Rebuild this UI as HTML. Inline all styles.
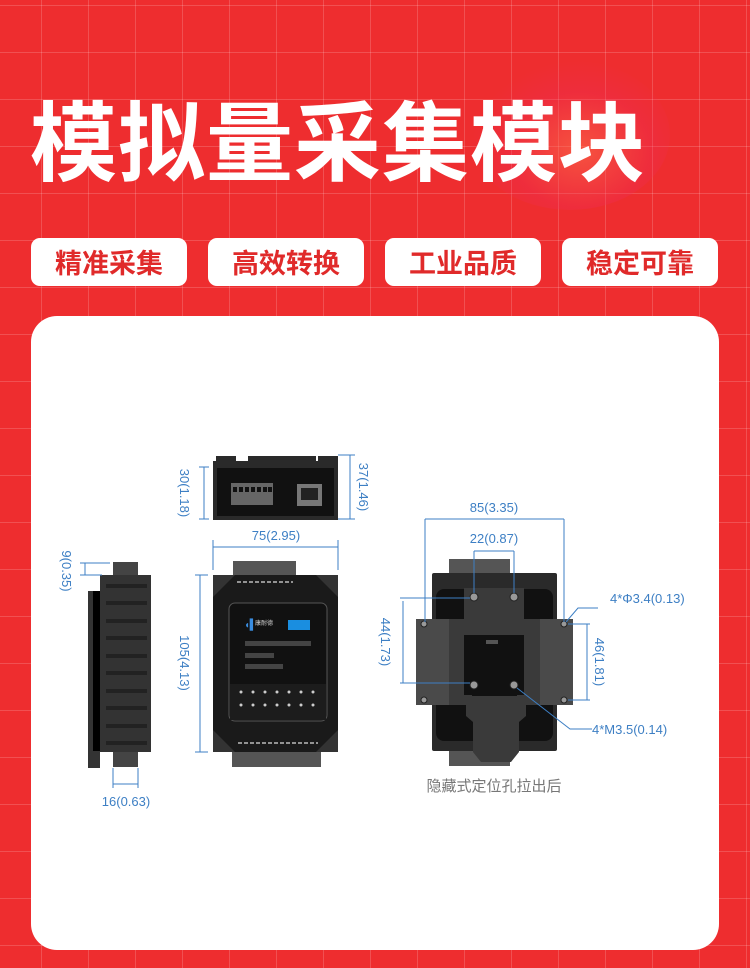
<!DOCTYPE html>
<html><head><meta charset="utf-8"><style>
html,body{margin:0;padding:0}
body{width:750px;height:968px;position:relative;overflow:hidden;background:#ee2d2f;font-family:"Liberation Sans","Noto Sans CJK SC",sans-serif}
.grid{position:absolute;left:0;top:0;width:750px;height:968px;background-image:linear-gradient(to right,rgba(255,255,255,.17) 1px,transparent 1px),linear-gradient(to bottom,rgba(255,255,255,.17) 1px,transparent 1px);background-size:47px 47px;background-position:-6px 5px}
.glow{position:absolute;left:470px;top:60px;width:200px;height:150px;border-radius:50%;background:radial-gradient(ellipse at 55% 60%,rgba(255,120,80,.5),rgba(240,45,90,.3) 45%,transparent 70%)}
.title{position:absolute;left:30px;top:82px;font-size:87px;font-weight:bold;color:#fff;letter-spacing:1px;white-space:nowrap;line-height:110px;font-family:"Noto Sans CJK SC",sans-serif}
.btn{position:absolute;top:238px;width:156px;height:48px;background:#fff;border-radius:9px;color:#e02a2a;font-size:27px;font-weight:bold;text-align:center;line-height:48px;font-family:"Noto Sans CJK SC",sans-serif}
.card{position:absolute;left:31px;top:316px;width:688px;height:634px;background:#fff;border-radius:26px}
svg{position:absolute;left:0;top:0}
</style></head><body>
<div class="grid"></div><div class="glow"></div>
<div class="title">模拟量采集模块</div>
<div class="btn" style="left:31px">精准采集</div>
<div class="btn" style="left:208px">高效转换</div>
<div class="btn" style="left:385px">工业品质</div>
<div class="btn" style="left:562px">稳定可靠</div>
<div class="card"></div>
<svg width="750" height="968" viewBox="0 0 750 968" font-family="Liberation Sans,sans-serif">
<g fill="#3d7fc4" font-size="13">
<rect x="216" y="456" width="20" height="7" fill="#2a2a2a"/><rect x="248" y="456" width="68" height="7" fill="#2a2a2a"/><rect x="318" y="456" width="20" height="7" fill="#2a2a2a"/>
<rect x="213" y="461" width="125" height="59" fill="#2a2a2a"/>
<rect x="217" y="468" width="117" height="48" fill="#111"/>
<rect x="231" y="483" width="42" height="22" fill="#666"/>
<g fill="#111"><rect x="233" y="487" width="4" height="5"/><rect x="239" y="487" width="4" height="5"/><rect x="245" y="487" width="4" height="5"/><rect x="251" y="487" width="4" height="5"/><rect x="257" y="487" width="4" height="5"/><rect x="263" y="487" width="4" height="5"/><rect x="268" y="487" width="4" height="5"/></g>
<rect x="297" y="484" width="25" height="22" fill="#777"/><rect x="301" y="488" width="17" height="12" fill="#222"/>
<g stroke="#3d7fc4" fill="none" stroke-width="1"><path d="M204 467V519M199 467h10M199 519h10"/><path d="M350 455V519M345 455h10M345 519h10M338 455h14M338 519h14"/></g>
<text transform="translate(180,493) rotate(90)" text-anchor="middle">30(1.18)</text>
<text transform="translate(359,487) rotate(90)" text-anchor="middle">37(1.46)</text>
<text x="276" y="540" text-anchor="middle">75(2.95)</text>
<g stroke="#3d7fc4" fill="none"><path d="M213 547H338M213 540V570M338 540V570"/><path d="M200 575V752M195 575h13M195 752h13"/></g>
<text transform="translate(180,663) rotate(90)" text-anchor="middle">105(4.13)</text>
<rect x="233" y="561" width="63" height="17" fill="#555"/>
<rect x="232" y="750" width="89" height="17" fill="#555"/>
<rect x="213" y="575" width="125" height="177" rx="3" fill="#1a1a1a"/>
<path d="M213 575h22l-22 22zM338 575h-22l22 22zM213 752h22l-22-22zM338 752h-22l22-22z" fill="#333"/>
<rect x="229" y="603" width="98" height="118" rx="6" fill="#111" stroke="#555"/>
<rect x="230" y="684" width="96" height="36" fill="#1c1c1c"/>
<text x="244" y="628" fill="#3a8de0" font-size="10" font-weight="bold">◖▍</text>
<text x="255" y="625" fill="#ccc" font-size="6">康耐德</text>
<rect x="288" y="620" width="22" height="10" fill="#1a8ee0"/>
<rect x="245" y="641" width="66" height="5" fill="#444"/><rect x="245" y="653" width="29" height="5" fill="#444"/><rect x="245" y="664" width="38" height="5" fill="#444"/>
<g fill="#ccc"><circle cx="241" cy="692" r="1.5"/><circle cx="253" cy="692" r="1.5"/><circle cx="265" cy="692" r="1.5"/><circle cx="277" cy="692" r="1.5"/><circle cx="289" cy="692" r="1.5"/><circle cx="301" cy="692" r="1.5"/><circle cx="313" cy="692" r="1.5"/>
<circle cx="241" cy="705" r="1.5"/><circle cx="253" cy="705" r="1.5"/><circle cx="265" cy="705" r="1.5"/><circle cx="277" cy="705" r="1.5"/><circle cx="289" cy="705" r="1.5"/><circle cx="301" cy="705" r="1.5"/><circle cx="313" cy="705" r="1.5"/></g>
<path d="M237 582h56M238 743h80" stroke="#bbb" stroke-dasharray="4 2" stroke-width="1.5"/>
<rect x="88" y="591" width="12" height="177" fill="#333"/>
<rect x="93" y="591" width="7" height="160" fill="#000"/>
<rect x="113" y="562" width="25" height="14" fill="#444"/><rect x="113" y="750" width="25" height="17" fill="#444"/>
<rect x="100" y="575" width="51" height="177" fill="#333"/>
<g fill="#222"><rect x="106" y="584" width="41" height="4"/><rect x="106" y="601" width="41" height="4"/><rect x="106" y="619" width="41" height="4"/><rect x="106" y="636" width="41" height="4"/><rect x="106" y="654" width="41" height="4"/><rect x="106" y="671" width="41" height="4"/><rect x="106" y="689" width="41" height="4"/><rect x="106" y="706" width="41" height="4"/><rect x="106" y="724" width="41" height="4"/><rect x="106" y="741" width="41" height="4"/></g>
<g stroke="#3d7fc4" fill="none"><path d="M85 563V575M80 563h30M80 575h22"/><path d="M113 768V788M138 768V788M113 784h25"/></g>
<text transform="translate(62,571) rotate(90)" text-anchor="middle">9(0.35)</text>
<text x="126" y="806" text-anchor="middle">16(0.63)</text>
<rect x="449" y="559" width="61" height="16" fill="#555"/><rect x="449" y="750" width="61" height="16" fill="#555"/>
<rect x="432" y="573" width="125" height="178" rx="2" fill="#2a2a2a"/>
<rect x="436" y="589" width="117" height="152" rx="8" fill="#111"/>
<rect x="416" y="619" width="56" height="86" fill="#4a4a4a"/><rect x="517" y="619" width="56" height="86" fill="#4a4a4a"/>
<rect x="449" y="619" width="23" height="86" fill="#3a3a3a"/><rect x="517" y="619" width="23" height="86" fill="#3a3a3a"/>
<rect x="464" y="588" width="60" height="47" fill="#3a3a3a"/>
<rect x="464" y="635" width="60" height="60" fill="#111"/>
<path d="M466 696h60v20l-7 6v30l-8 10h-30l-8-10v-30l-7-6z" fill="#3a3a3a"/>
<rect x="486" y="640" width="12" height="4" fill="#555"/>
<g fill="#999" stroke="#222"><circle cx="474" cy="597" r="4"/><circle cx="514" cy="597" r="4"/><circle cx="474" cy="685" r="4"/><circle cx="514" cy="685" r="4"/>
<circle cx="424" cy="624" r="3"/><circle cx="564" cy="624" r="3"/><circle cx="424" cy="700" r="3"/><circle cx="564" cy="700" r="3"/></g>
<g stroke="#3d7fc4" fill="none">
<path d="M425 519H564M425 519V622M564 519V622"/>
<path d="M474 551H514M474 551V593M514 551V593"/>
<path d="M400 598H470M400 683H470M403 601V683"/>
<path d="M568 624H590M568 700H590M587 624V700"/>
<path d="M566 622L578 608H598"/>
<path d="M517 688L570 729H592"/>
</g>
<text x="494" y="512" text-anchor="middle">85(3.35)</text>
<text x="494" y="543" text-anchor="middle">22(0.87)</text>
<text transform="translate(381,642) rotate(90)" text-anchor="middle">44(1.73)</text>
<text transform="translate(595,662) rotate(90)" text-anchor="middle">46(1.81)</text>
<text x="610" y="603">4*Φ3.4(0.13)</text>
<text x="592" y="734">4*M3.5(0.14)</text>
<text x="494" y="791" text-anchor="middle" fill="#777" font-size="15" font-family="Noto Sans CJK SC,sans-serif">隐藏式定位孔拉出后</text>
</g>
</svg>
</body></html>
